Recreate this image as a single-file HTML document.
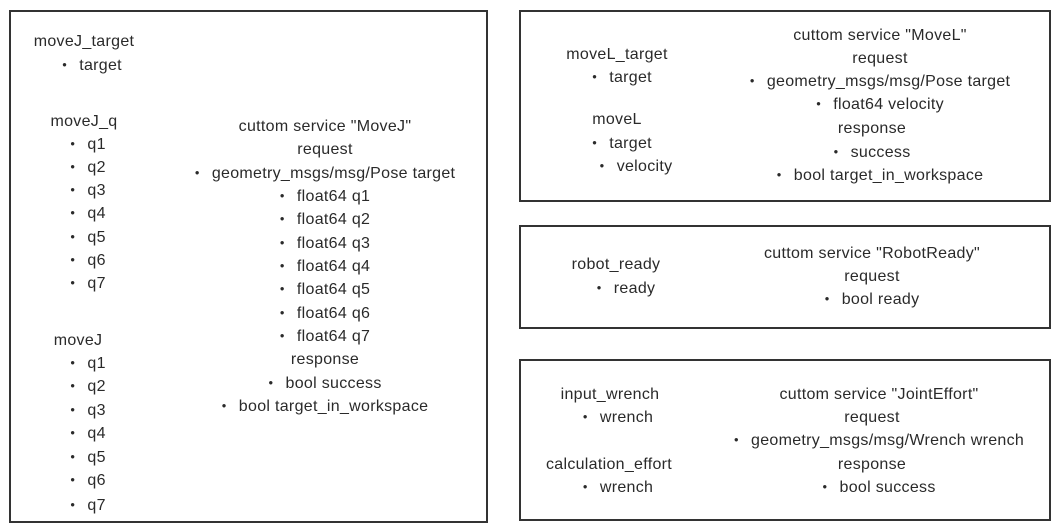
<!DOCTYPE html>
<html><head><meta charset="utf-8"><style>
body{margin:0;width:1058px;height:530px;background:#fff;position:relative;overflow:hidden;font-family:"Liberation Sans","DejaVu Sans",sans-serif;font-size:16px;letter-spacing:0.3px;color:#2a2a2a}
.b{position:absolute;border:2px solid #333;box-sizing:border-box}
.t{position:absolute;white-space:nowrap;transform:translateX(-50%);line-height:20px}
.d{font-size:8px;margin-right:12px;position:relative;top:-3px}
</style></head><body>
<div class="b" style="left:9px;top:10px;width:479px;height:513px"></div>
<div class="b" style="left:519px;top:10px;width:532px;height:192px"></div>
<div class="b" style="left:519px;top:225px;width:532px;height:104px"></div>
<div class="b" style="left:519px;top:359px;width:532px;height:162px"></div>
<div id="c"></div>
<script>
var L=[
[84,42,"moveJ_target",0],[92,66,"target",1],[84,122,"moveJ_q",0],
[88,145,"q1",1],[88,168,"q2",1],[88,191,"q3",1],[88,214,"q4",1],[88,238,"q5",1],[88,261,"q6",1],[88,284,"q7",1],
[78,341,"moveJ",0],
[88,364,"q1",1],[88,387,"q2",1],[88,411,"q3",1],[88,434,"q4",1],[88,458,"q5",1],[88,481,"q6",1],[88,506,"q7",1],
[617,55,"moveL_target",0],[622,78,"target",1],[617,120,"moveL",0],[622,144,"target",1],[636,167,"velocity",1],
[880,36,'cuttom service "MoveL"',0],[880,59,"request",0],[880,82,"geometry_msgs/msg/Pose target",1],[880,105,"float64 velocity",1],[872,129,"response",0],[872,153,"success",1],[880,176,"bool target_in_workspace",1],
[616,265,"robot_ready",0],[626,289,"ready",1],[872,254,'cuttom service "RobotReady"',0],[872,277,"request",0],[872,300,"bool ready",1],
[610,395,"input_wrench",0],[618,418,"wrench",1],[609,465,"calculation_effort",0],[618,488,"wrench",1],
[879,395,'cuttom service "JointEffort"',0],[872,418,"request",0],[879,441,"geometry_msgs/msg/Wrench wrench",1],[872,465,"response",0],[879,488,"bool success",1]
];
var mid=['cuttom service "MoveJ"',0,'request',0,'geometry_msgs/msg/Pose target',1,'float64 q1',1,'float64 q2',1,'float64 q3',1,'float64 q4',1,'float64 q5',1,'float64 q6',1,'float64 q7',1,'response',0,'bool success',1,'bool target_in_workspace',1];
for(var i=0;i<mid.length/2;i++)L.push([325,127+i*23.33,mid[2*i],mid[2*i+1]]);
var h="";L.forEach(function(a){h+='<div class="t" style="left:'+a[0]+'px;top:'+(a[1]-10)+'px">'+(a[3]?'<span class="d">●</span>':'')+a[2].replace(/"/g,'&quot;')+'</div>';});
document.getElementById("c").innerHTML=h;
</script>
</body></html>
